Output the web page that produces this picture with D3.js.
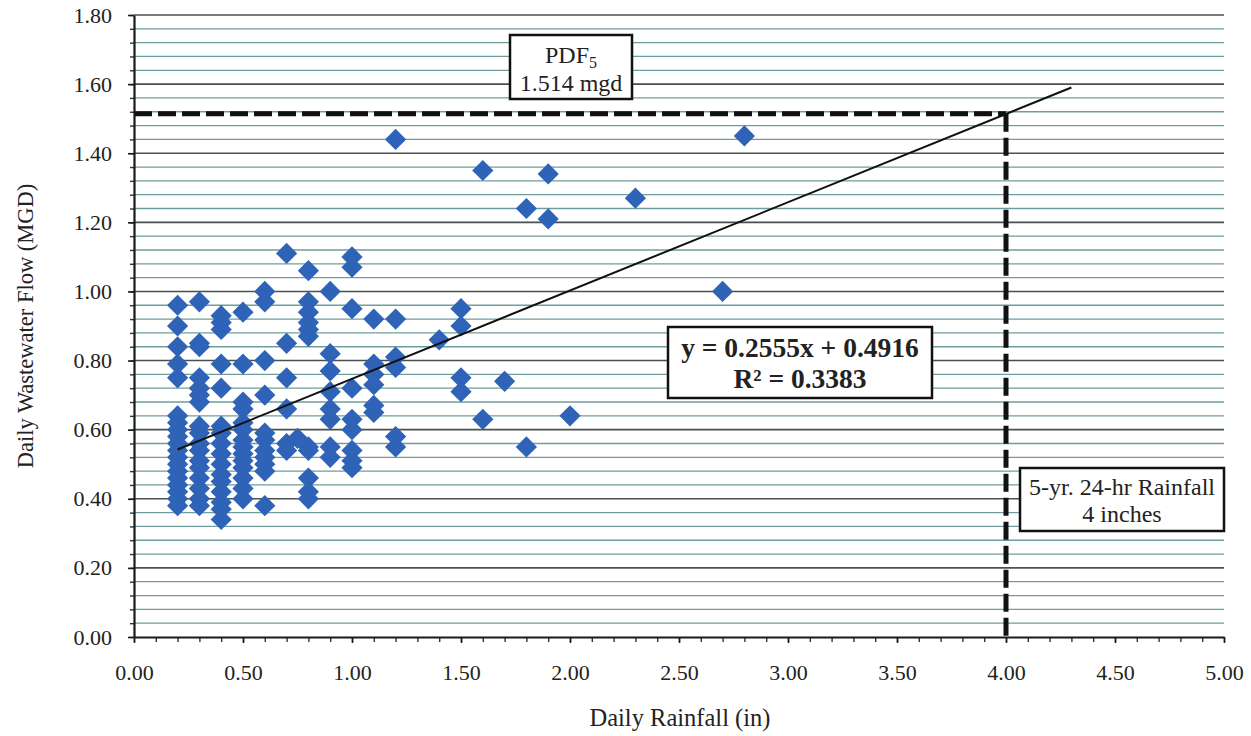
<!DOCTYPE html>
<html>
<head>
<meta charset="utf-8">
<script src="https://cdn.jsdelivr.net/npm/d3@7"></script>
<style>
  html, body { margin: 0; padding: 0; background: #ffffff; }
  svg { display: block; }
  text { font-family: "Liberation Serif", "Times New Roman", serif; fill: #222; }
</style>
</head>
<body>
<svg id="chart" width="1251" height="736"></svg>
<script>
// Daily rainfall (in) vs. daily wastewater flow (MGD)
const rainfall = [
  0.2,0.2,0.2,0.2,0.2,0.2,0.2,0.2,0.2,0.2,0.2,0.2,0.2,0.2,0.2,0.2,0.2,0.2,0.2,
  0.3,0.3,0.3,0.3,0.3,0.3,0.3,0.3,0.3,0.3,0.3,0.3,0.3,0.3,0.3,0.3,0.3,
  0.4,0.4,0.4,0.4,0.4,0.4,0.4,0.4,0.4,0.4,0.4,0.4,0.4,0.4,0.4,0.4,
  0.5,0.5,0.5,0.5,0.5,0.5,0.5,0.5,0.5,0.5,0.5,0.5,0.5,0.5,
  0.6,0.6,0.6,0.6,0.6,0.6,0.6,0.6,0.6,0.6,0.6,
  0.7,0.7,0.7,0.7,0.7,0.7,
  0.75,
  0.8,0.8,0.8,0.8,0.8,0.8,0.8,0.8,0.8,0.8,0.8,
  0.9,0.9,0.9,0.9,0.9,0.9,0.9,0.9,
  1.0,1.0,1.0,1.0,1.0,1.0,1.0,1.0,1.0,
  1.1,1.1,1.1,1.1,1.1,1.1,
  1.2,1.2,1.2,1.2,1.2,1.2,
  1.4,
  1.5,1.5,1.5,1.5,
  1.6,1.6,
  1.7,
  1.8,1.8,
  1.9,1.9,
  2.0,
  2.3,
  2.7,
  2.8
];
const flow = [
  0.96,0.90,0.84,0.79,0.75,0.64,0.62,0.60,0.58,0.56,0.54,0.52,0.50,0.48,0.46,0.44,0.42,0.40,0.38,
  0.97,0.85,0.84,0.75,0.72,0.70,0.68,0.61,0.59,0.56,0.54,0.51,0.49,0.46,0.43,0.40,0.38,
  0.93,0.91,0.89,0.79,0.72,0.61,0.59,0.56,0.53,0.50,0.47,0.45,0.42,0.39,0.37,0.34,
  0.94,0.79,0.68,0.66,0.62,0.60,0.57,0.55,0.53,0.51,0.49,0.46,0.43,0.40,
  1.00,0.97,0.80,0.70,0.59,0.57,0.54,0.52,0.50,0.48,0.38,
  1.11,0.85,0.75,0.66,0.56,0.54,
  0.575,
  1.06,0.97,0.94,0.91,0.89,0.87,0.55,0.54,0.46,0.42,0.40,
  1.00,0.82,0.77,0.71,0.66,0.63,0.55,0.52,
  1.10,1.07,0.95,0.72,0.63,0.60,0.54,0.51,0.49,
  0.92,0.79,0.76,0.73,0.67,0.65,
  1.44,0.92,0.81,0.78,0.58,0.55,
  0.86,
  0.95,0.90,0.75,0.71,
  1.35,0.63,
  0.74,
  1.24,0.55,
  1.34,1.21,
  0.64,
  1.27,
  1.00,
  1.45
];

// Linear fit and design references
const trendSlope = 0.2555;
const trendIntercept = 0.4916;
const trendRange = [0.2, 4.3];
const pdfFlow = 1.514;
const designRain = 4;

// Axis ticks
const xTicks = [0, 0.5, 1, 1.5, 2, 2.5, 3, 3.5, 4, 4.5, 5];
const yTicks = [0, 0.2, 0.4, 0.6, 0.8, 1.0, 1.2, 1.4, 1.6, 1.8];
const xMinorStep = 0.1;
const yMinorStep = 0.04;

const xTitle = "Daily Rainfall (in)";
const yTitle = "Daily Wastewater Flow (MGD)";
const eqLines = ["y = 0.2555x + 0.4916", "R² = 0.3383"];
const rainLines = ["5-yr. 24-hr Rainfall", "4 inches"];

const svg = d3.select("#chart");
const plotLeft = 134, plotRight = 1224, plotTop = 15, plotBottom = 637;

const x = d3.scaleLinear().domain([0, 5]).range([plotLeft, plotRight]);
const y = d3.scaleLinear().domain([0, 1.8]).range([plotBottom, plotTop]);

const xMinor = d3.range(0, 5 + 1e-9, xMinorStep).map(v => +v.toFixed(2));
const yMinor = d3.range(0, 1.8 + 1e-9, yMinorStep).map(v => +v.toFixed(2));
const isMajorY = v => yTicks.some(t => Math.abs(t - v) < 1e-6);

// Horizontal grid
svg.append("g")
  .selectAll("line")
  .data(yMinor.filter(v => v > 0))
  .join("line")
  .attr("x1", plotLeft).attr("x2", plotRight)
  .attr("y1", d => y(d)).attr("y2", d => y(d))
  .attr("stroke", d => isMajorY(d) ? "#4a5050" : "#6f9d9d")
  .attr("stroke-width", d => isMajorY(d) ? 1.6 : 1.3);

// Minor ticks
svg.append("g")
  .attr("transform", `translate(0,${plotBottom})`)
  .call(d3.axisBottom(x).tickValues(xMinor).tickSize(5).tickFormat(""))
  .call(g => g.select(".domain").remove())
  .call(g => g.selectAll("line").attr("stroke", "#333").attr("stroke-width", 1.4));
svg.append("g")
  .attr("transform", `translate(${plotLeft},0)`)
  .call(d3.axisLeft(y).tickValues(yMinor).tickSize(4).tickFormat(""))
  .call(g => g.select(".domain").remove())
  .call(g => g.selectAll("line").attr("stroke", "#333").attr("stroke-width", 1.4));

// Major axes
const xAxis = svg.append("g")
  .attr("transform", `translate(0,${plotBottom})`)
  .call(d3.axisBottom(x).tickValues(xTicks).tickSize(6).tickSizeOuter(0).tickPadding(21).tickFormat(d3.format(".2f")));
xAxis.select(".domain").attr("stroke", "#1a1a1a").attr("stroke-width", 2);
xAxis.selectAll("line").attr("stroke", "#1a1a1a").attr("stroke-width", 1.6);
xAxis.selectAll("text").attr("font-size", 22).attr("font-family", "Liberation Serif").attr("fill", "#222");

const yAxis = svg.append("g")
  .attr("transform", `translate(${plotLeft},0)`)
  .call(d3.axisLeft(y).tickValues(yTicks).tickSize(6).tickSizeOuter(0).tickPadding(16).tickFormat(d3.format(".2f")));
yAxis.select(".domain").attr("stroke", "#1a1a1a").attr("stroke-width", 2.2);
yAxis.selectAll("line").attr("stroke", "#1a1a1a").attr("stroke-width", 1.6);
yAxis.selectAll("text").attr("font-size", 22).attr("font-family", "Liberation Serif").attr("fill", "#222");

// Axis titles
svg.append("text")
  .attr("x", (plotLeft + plotRight) / 2 + 1).attr("y", 726)
  .attr("text-anchor", "middle").attr("font-size", 24.5)
  .text(xTitle);
svg.append("text")
  .attr("transform", `translate(33,${(plotTop + plotBottom) / 2}) rotate(-90)`)
  .attr("text-anchor", "middle").attr("font-size", 22.5)
  .text(yTitle);

// Reference dashed lines
const dash = "18,6";
svg.append("line")
  .attr("x1", x(0)).attr("x2", x(designRain))
  .attr("y1", y(pdfFlow)).attr("y2", y(pdfFlow))
  .attr("stroke", "#111").attr("stroke-width", 5).attr("stroke-dasharray", dash);
svg.append("line")
  .attr("x1", x(designRain)).attr("x2", x(designRain))
  .attr("y1", y(pdfFlow)).attr("y2", y(0))
  .attr("stroke", "#111").attr("stroke-width", 5).attr("stroke-dasharray", dash);

// Data points (diamonds)
const points = rainfall.map((r, i) => ({ r, f: flow[i] }));
const diamond = d3.symbol().type(d3.symbolSquare).size(225);
svg.append("g")
  .selectAll("path")
  .data(points)
  .join("path")
  .attr("d", diamond)
  .attr("transform", d => `translate(${x(d.r)},${y(d.f)}) rotate(45)`)
  .attr("fill", "#2f63b7");

// Trend line
svg.append("line")
  .attr("x1", x(trendRange[0])).attr("y1", y(trendSlope * trendRange[0] + trendIntercept))
  .attr("x2", x(trendRange[1])).attr("y2", y(trendSlope * trendRange[1] + trendIntercept))
  .attr("stroke", "#111").attr("stroke-width", 2);

// Annotation boxes
function box(x0, y0, w, h) {
  svg.append("rect")
    .attr("x", x0).attr("y", y0).attr("width", w).attr("height", h)
    .attr("fill", "#ffffff").attr("stroke", "#111").attr("stroke-width", 2.5);
}

// Peak daily flow box
box(510, 35, 122, 64);
const pdf = svg.append("text")
  .attr("x", 571).attr("y", 63).attr("text-anchor", "middle").attr("font-size", 24);
pdf.append("tspan").text("PDF");
pdf.append("tspan").attr("dy", 5).attr("font-size", 16).text("5");
svg.append("text")
  .attr("x", 571).attr("y", 91).attr("text-anchor", "middle").attr("font-size", 24)
  .text("1.514 mgd");

// Regression equation box
box(668, 327, 264, 71);
eqLines.forEach((t, i) => {
  svg.append("text")
    .attr("x", 800).attr("y", 357 + i * 31)
    .attr("text-anchor", "middle").attr("font-size", 27.5).attr("font-weight", "bold")
    .text(t);
});

// Design storm box
box(1020, 468, 204, 63);
rainLines.forEach((t, i) => {
  svg.append("text")
    .attr("x", 1122).attr("y", 495 + i * 27)
    .attr("text-anchor", "middle").attr("font-size", 24)
    .text(t);
});
</script>
</body>
</html>
